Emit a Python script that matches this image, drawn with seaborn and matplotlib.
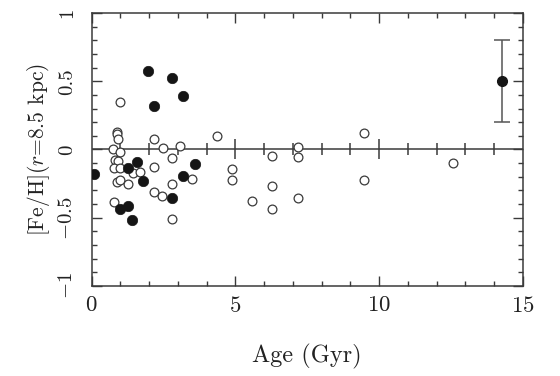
import matplotlib
matplotlib.use('Agg')
import matplotlib.pyplot as plt
import seaborn as sns
from matplotlib.ticker import MultipleLocator

# open circles
open_age = [0.985, 0.87, 0.88, 0.90, 2.18, 2.47, 3.07, 0.75, 0.985, 4.37, 7.18, 6.29,
            0.80, 0.92, 0.76, 0.97, 1.45, 1.67, 0.88, 0.97, 1.27, 2.17, 2.78, 2.78,
            2.17, 2.46, 3.48, 0.79, 2.78, 4.87, 4.87, 5.58, 6.29, 6.29, 7.18, 7.18,
            9.49, 9.49, 12.59]
open_feh = [0.35, 0.13, 0.11, 0.08, 0.077, 0.012, 0.025, 0.0, -0.018, 0.099, 0.02, -0.045,
            -0.08, -0.086, -0.138, -0.132, -0.17, -0.165, -0.24, -0.22, -0.255, -0.128, -0.065, -0.254,
            -0.312, -0.338, -0.218, -0.382, -0.509, -0.143, -0.223, -0.377, -0.265, -0.436, -0.053, -0.358,
            0.119, -0.223, -0.101]

# filled circles
filled_age = [1.97, 2.78, 3.18, 2.18, 0.09, 1.27, 1.58, 1.77, 0.97, 1.27, 1.39, 2.78, 3.18, 3.58]
filled_feh = [0.575, 0.526, 0.394, 0.32, -0.182, -0.136, -0.089, -0.228, -0.433, -0.412, -0.518,
              -0.352, -0.194, -0.106]

# typical error bar
err_age = [14.29]
err_feh = [0.5]
err_size = [0.3]

sns.set_style('ticks')
plt.rcParams['font.family'] = ['cmr10', 'DejaVu Serif']
plt.rcParams['mathtext.fontset'] = 'cm'
plt.rcParams['axes.formatter.use_mathtext'] = True

ink = '#3a3a3a'
fig = plt.figure(figsize=(5.6, 3.76), dpi=100)
ax = fig.add_axes([0.1638, 0.2394, 0.7696, 0.726])

sns.scatterplot(x=open_age, y=open_feh, ax=ax, marker='o', s=40,
                facecolor='white', edgecolor=ink, linewidth=0.9, zorder=3)
sns.scatterplot(x=filled_age, y=filled_feh, ax=ax, marker='o', s=56,
                color='#151515', edgecolor='#151515', linewidth=0.5, zorder=4)
ax.errorbar(err_age, err_feh, yerr=err_size, fmt='o', ms=7, color='#151515',
            ecolor='#555555', elinewidth=1.1, capsize=6, capthick=1.1, zorder=4)

# zero line with crossing ticks
ax.axhline(0, color=ink, lw=1.1, zorder=2)
minor_x = [x for x in range(1, 15) if x % 5 != 0]
major_x = [5, 10]
ax.plot(minor_x, [0] * len(minor_x), ls='none', marker='|', ms=8, mew=1.1, color=ink, zorder=2)
ax.plot(major_x, [0] * len(major_x), ls='none', marker='|', ms=14, mew=1.1, color=ink, zorder=2)

ax.set_xlim(0, 15)
ax.set_ylim(-1, 1)
ax.xaxis.set_major_locator(MultipleLocator(5))
ax.xaxis.set_minor_locator(MultipleLocator(1))
ax.yaxis.set_major_locator(MultipleLocator(0.5))
ax.yaxis.set_minor_locator(MultipleLocator(0.1))
ax.set_yticks([-1, -0.5, 0, 0.5, 1])
ax.set_yticklabels(['$-1$', '$-0.5$', '0', '0.5', '1'])

ax.tick_params(which='both', direction='in', top=True, right=True, colors=ink,
               labelcolor='#222222', width=1.0)
ax.tick_params(which='major', length=7)
ax.tick_params(which='minor', length=3.5)
ax.tick_params(axis='x', labelsize=16.5, pad=7)
ax.tick_params(axis='y', labelsize=15, pad=11)
for lab in ax.get_yticklabels():
    lab.set_rotation(90)
    lab.set_va('center')
for sp in ax.spines.values():
    sp.set_color(ink)
    sp.set_linewidth(1.1)

ax.set_xlabel('Age (Gyr)', fontsize=17.5, color='#222222', labelpad=20)
ax.set_ylabel(r'[Fe/H]($r$=8.5 kpc)', fontsize=15.5, color='#222222', labelpad=5)

fig.savefig('out.png', dpi=100)
